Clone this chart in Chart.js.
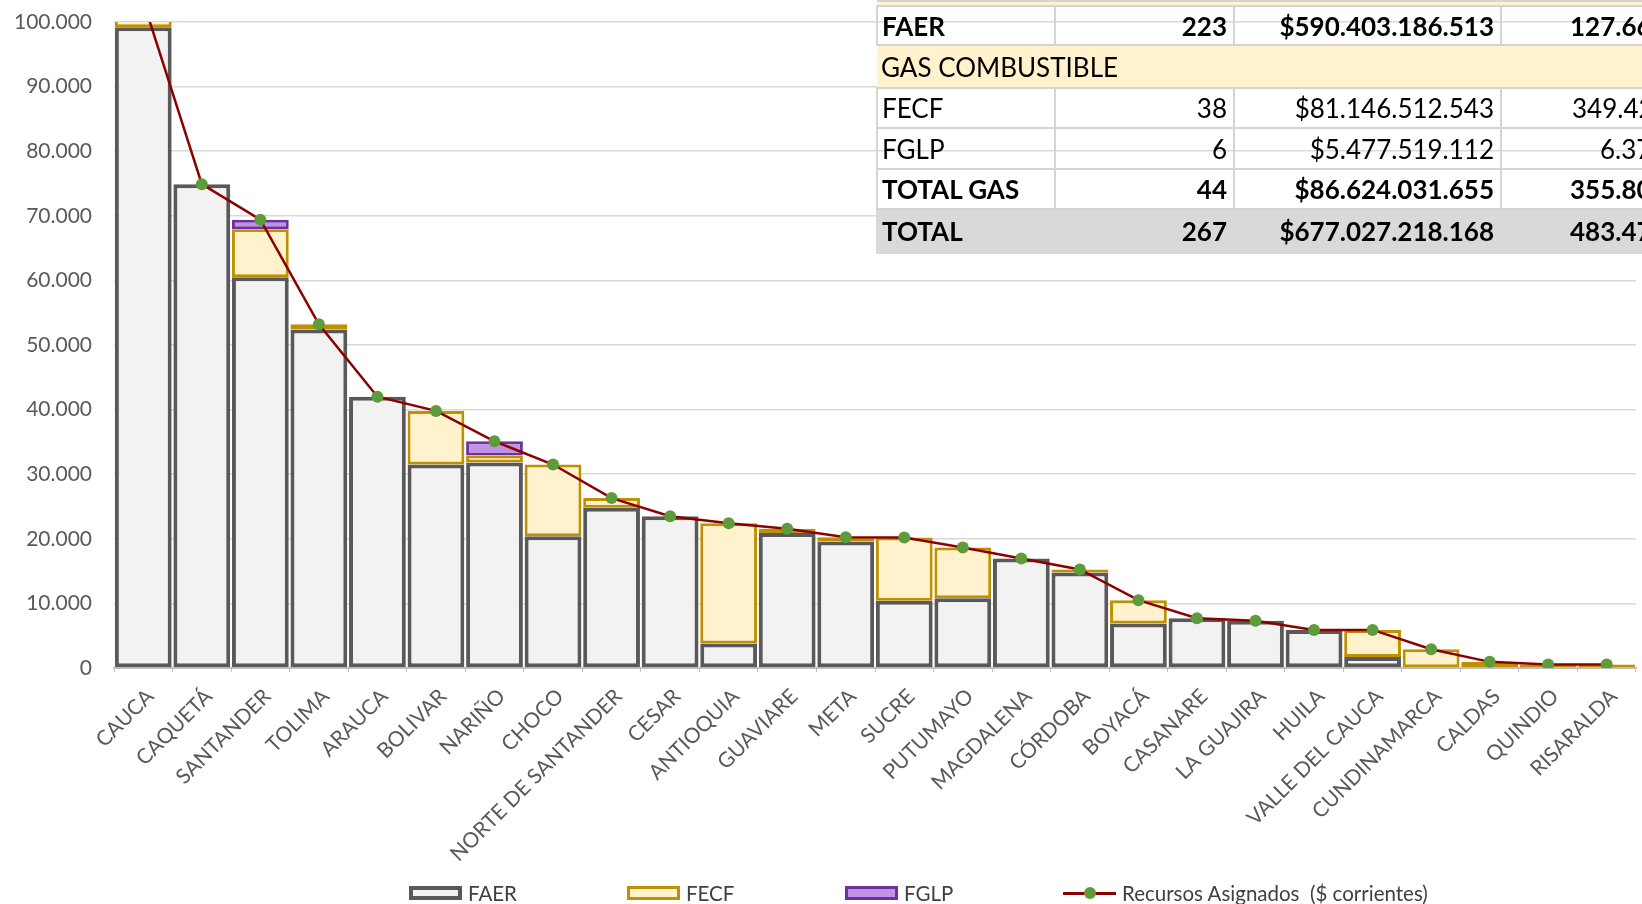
<!DOCTYPE html>
<html lang="es">
<head>
<meta charset="utf-8">
<title>Recursos asignados por departamento</title>
<script src="https://cdn.jsdelivr.net/npm/chart.js@4.4.1/dist/chart.umd.min.js"></script>
<style>
  html, body { margin: 0; padding: 0; background: #fff; overflow: hidden; }
  #wrap { position: relative; width: 1642px; height: 904px; overflow: hidden; font-family: Lato, 'Open Sans', sans-serif; }
  #grafico { position: absolute; left: 0; top: 0; }

  /* tabla resumen */
  #resumen { position: absolute; left: 876px; top: 0; width: 844px; border-collapse: collapse; table-layout: fixed; font-size: 26px; color: #000; }
  #resumen td { border: 2px solid #d4d4d4; padding: 0 6px 0 4px; white-space: nowrap; overflow: hidden; }
  #resumen td.num { text-align: right; }
  #resumen td.cut { text-align: left; border-right: none; }
  #resumen tr.bold td { font-weight: bold; }
  #resumen tr.band td { background: #fff2cc; border-left: none; border-right: none; }
  #resumen tr.total td { background: #d9d9d9; border-color: #d9d9d9; }

  /* leyenda */
  #leyenda { position: absolute; left: 409px; top: 883px; display: flex; font-size: 20.5px; color: #404040; }
  #leyenda .item { width: 218px; flex: none; display: flex; align-items: center; height: 20px; white-space: pre; }
  #leyenda .item:last-child { width: auto; }
  #leyenda .caja { flex: none; width: 53px; height: 14px; box-sizing: border-box; margin-right: 6px; }
  #leyenda .linea { flex: none; position: relative; width: 53px; height: 14px; margin-right: 6px; }
  #leyenda .linea i { position: absolute; left: 0; right: 0; top: 6px; height: 3px; }
  #leyenda .linea b { position: absolute; left: 21px; top: 1px; width: 12px; height: 12px; border-radius: 50%; }
</style>
</head>
<body>
<div id="wrap">
  <canvas id="grafico" width="1642" height="904"></canvas>
  <table id="resumen">
    <colgroup><col style="width:178px"><col style="width:179px"><col style="width:267px"><col style="width:220px"></colgroup>
    <tbody id="cuerpo"></tbody>
  </table>
  <div id="leyenda"></div>
</div>
<script>
// Datos

const departamentos = ['CAUCA', 'CAQUETÁ', 'SANTANDER', 'TOLIMA', 'ARAUCA', 'BOLIVAR', 'NARIÑO', 'CHOCO',
  'NORTE DE SANTANDER', 'CESAR', 'ANTIOQUIA', 'GUAVIARE', 'META', 'SUCRE', 'PUTUMAYO', 'MAGDALENA',
  'CÓRDOBA', 'BOYACÁ', 'CASANARE', 'LA GUAJIRA', 'HUILA', 'VALLE DEL CAUCA', 'CUNDINAMARCA', 'CALDAS',
  'QUINDIO', 'RISARALDA']

const faer = [99200, 74900, 60500, 52400, 42000, 31500, 31800, 20400, 24800, 23500, 3800, 20900, 19600,
  10400, 10800, 16950, 14800, 6900, 7700, 7300, 5900, 1700, 0, 0, 0, 0]
const fecf = [4000, 0, 7400, 800, 0, 8300, 1100, 11100, 1500, 0, 18600, 650, 650, 9800, 7850, 0, 450,
  3600, 0, 0, 0, 4200, 2900, 950, 550, 550]
const fglp = [0, 0, 1500, 0, 0, 0, 2200, 0, 0, 0, 0, 0, 0, 0, 0, 0, 0, 0, 0, 0, 0, 0, 0, 0, 0, 0]
const recursos = [103200, 74900, 69400, 53200, 42000, 39800, 35100, 31500, 26300, 23500, 22400, 21550,
  20250, 20200, 18650, 16950, 15250, 10500, 7700, 7300, 5900, 5900, 2900, 950, 550, 550]

const yMax = 100000
const yPaso = 10000

// tabla resumen (la ultima columna sale cortada en la imagen)
const filasTabla = [
  ['band', '', '', '', ''],
  ['bold', 'FAER', '223', '$590.403.186.513', '127.66'],
  ['band', 'GAS COMBUSTIBLE', '', '', ''],
  ['', 'FECF', '38', '$81.146.512.543', '349.42'],
  ['', 'FGLP', '6', '$5.477.519.112', '6.37'],
  ['bold', 'TOTAL GAS', '44', '$86.624.031.655', '355.80'],
  ['bold total', 'TOTAL', '267', '$677.027.218.168', '483.47'],
]
const altoFilas = [5, 39, 43, 40, 41, 40, 44]
const sangriaUltima = [0, 68, 0, 70, 98, 68, 68]

const miles = v => String(v).replace(/\B(?=(\d{3})+(?!\d))/g, '.')

const cuerpo = document.getElementById('cuerpo')
filasTabla.forEach((f, i) => {
  const tr = document.createElement('tr')
  tr.className = f[0]
  tr.style.height = altoFilas[i] + 'px'
  if (f[0] === 'band') {
    const td = document.createElement('td')
    td.colSpan = 4
    td.textContent = f[1]
    tr.appendChild(td)
  } else {
    f.slice(1).forEach((t, j) => {
      const td = document.createElement('td')
      td.textContent = t
      if (j === 1 || j === 2) td.className = 'num'
      if (j === 3) {
        td.className = 'cut'
        td.style.paddingLeft = sangriaUltima[i] + 'px'
      }
      tr.appendChild(td)
    })
  }
  cuerpo.appendChild(tr)
})

// Chart

const grafico = document.getElementById('grafico')

const chart = new Chart(grafico, {
  type: 'bar',
  data: {
    labels: departamentos,
    datasets: [
      {
        label: 'FAER',
        data: faer,
        backgroundColor: '#f2f2f2',
        borderColor: '#595959',
        borderWidth: 4,
        borderSkipped: false,
        stack: 'barras',
        order: 1
      },
      {
        label: 'FECF',
        data: fecf,
        backgroundColor: '#fff2cc',
        borderColor: '#bf9000',
        borderWidth: 3,
        borderSkipped: false,
        stack: 'barras',
        order: 1
      },
      {
        label: 'FGLP',
        data: fglp,
        backgroundColor: '#bf94e4',
        borderColor: '#7030a0',
        borderWidth: 3,
        borderSkipped: false,
        stack: 'barras',
        order: 1
      },
      {
        type: 'line',
        label: 'Recursos Asignados  ($ corrientes)',
        data: recursos,
        borderColor: '#8b0000',
        borderWidth: 2.5,
        pointBackgroundColor: '#5e9c3b',
        pointBorderWidth: 0,
        pointRadius: 6,
        tension: 0,
        stack: 'linea',
        order: 0
      }
    ]
  },
  options: {
    responsive: false,
    animation: false,
    categoryPercentage: 0.97,
    barPercentage: 1,
    layout: { padding: { top: 22, left: 0, right: 0, bottom: 0 } },
    plugins: {
      legend: { display: false },
      tooltip: { enabled: false }
    },
    scales: {
      x: {
        stacked: true,
        grid: { display: true, drawOnChartArea: false, tickLength: 4, color: '#bfbfbf', offset: true },
        border: { color: '#bfbfbf', width: 2 },
        ticks: {
          autoSkip: false,
          minRotation: 45,
          maxRotation: 45,
          padding: 12,
          labelOffset: 7,
          color: '#595959',
          font: { family: 'Lato', size: 21 }
        },
        afterFit: s => { s.height = 236 }
      },
      y: {
        stacked: true,
        min: 0,
        max: yMax,
        grid: { color: '#d9d9d9', lineWidth: 1.5, drawTicks: false },
        border: { display: false },
        ticks: {
          stepSize: yPaso,
          padding: 22,
          color: '#595959',
          font: { family: 'Lato', size: 21 },
          callback: v => miles(v)
        },
        afterFit: s => {
          s.width = 114
          // el padding de las etiquetas no debe empujar el area hacia abajo
          s.paddingTop = 0
          s.paddingBottom = 0
        }
      }
    }
  }
})

// leyenda estilo Excel, armada con los colores de cada serie
const leyenda = document.getElementById('leyenda')
chart.data.datasets.forEach(ds => {
  const item = document.createElement('div')
  item.className = 'item'
  const marca = document.createElement('span')
  if (ds.type === 'line') {
    marca.className = 'linea'
    marca.innerHTML = '<i></i><b></b>'
    marca.querySelector('i').style.background = ds.borderColor
    marca.querySelector('b').style.background = ds.pointBackgroundColor
  } else {
    marca.className = 'caja'
    marca.style.background = ds.backgroundColor
    marca.style.border = ds.borderWidth + 'px solid ' + ds.borderColor
  }
  const txt = document.createElement('span')
  txt.textContent = ds.label
  item.appendChild(marca)
  item.appendChild(txt)
  leyenda.appendChild(item)
})
</script>
</body>
</html>
